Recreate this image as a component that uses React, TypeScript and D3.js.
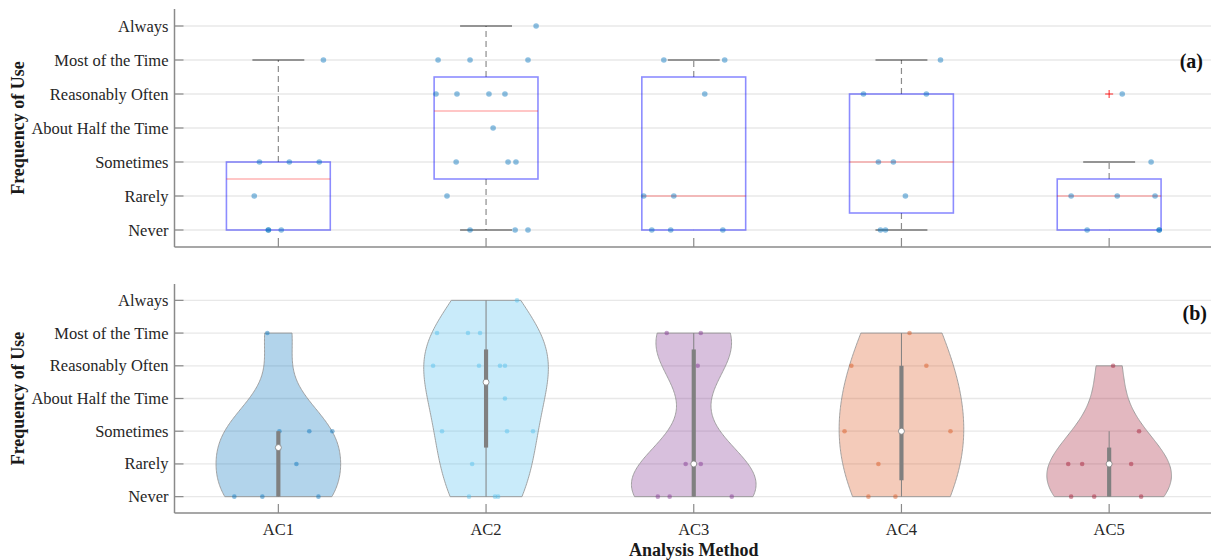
import React from "react";
import * as d3 from "d3";

// ---------- data ----------
const categories = ["AC1", "AC2", "AC3", "AC4", "AC5"];
const levelLabels = [
  "Never",
  "Rarely",
  "Sometimes",
  "About Half the Time",
  "Reasonably Often",
  "Most of the Time",
  "Always",
];

// responses (0 = Never ... 6 = Always)
const ac1Values = [0, 0, 0, 1, 2, 2, 2, 5];
const ac2Values = [0, 0, 0, 1, 2, 2, 2, 3, 4, 4, 4, 4, 5, 5, 5, 6];
const ac3Values = [0, 0, 0, 1, 1, 4, 5, 5];
const ac4Values = [0, 0, 1, 2, 2, 4, 4, 5];
const ac5Values = [0, 0, 0, 1, 1, 1, 2, 4];

// horizontal jitter (category units) of each response, panel (a)
const ac1BoxJitter = [-0.048, -0.048, 0.014, -0.116, -0.091, 0.053, 0.197, 0.217];
const ac2BoxJitter = [-0.077, 0.14, 0.202, -0.188, -0.144, 0.106, 0.144, 0.034, -0.241, -0.14, 0.014, 0.091, -0.231, -0.077, 0.202, 0.241];
const ac3BoxJitter = [-0.202, -0.111, 0.14, -0.241, -0.096, 0.053, -0.144, 0.149];
const ac4BoxJitter = [-0.101, -0.077, 0.019, -0.111, -0.039, -0.183, 0.12, 0.188];
const ac5BoxJitter = [-0.106, 0.241, 0.241, -0.183, 0.039, 0.221, 0.202, 0.063];

// horizontal jitter (category units) of each response, panel (b)
const ac1ViolinJitter = [-0.212, -0.077, 0.193, 0.087, 0.005, 0.149, 0.26, -0.053];
const ac2ViolinJitter = [-0.082, 0.043, 0.058, -0.067, -0.212, 0.101, 0.226, 0.091, -0.255, -0.034, 0.067, 0.091, -0.236, -0.087, -0.029, 0.149];
const ac3ViolinJitter = [-0.173, -0.116, 0.183, -0.039, 0.034, 0.019, -0.13, 0.034];
const ac4ViolinJitter = [-0.159, -0.029, -0.111, -0.274, 0.236, -0.241, 0.12, 0.039];
const ac5ViolinJitter = [-0.183, -0.072, 0.154, -0.197, -0.13, 0.106, 0.144, 0.019];

const violinColors = ["#0072BD", "#4DBEEE", "#7E2F8E", "#D95319", "#A2142F"];

const allValues = [ac1Values, ac2Values, ac3Values, ac4Values, ac5Values];
const allBoxJitter = [ac1BoxJitter, ac2BoxJitter, ac3BoxJitter, ac4BoxJitter, ac5BoxJitter];
const allViolinJitter = [ac1ViolinJitter, ac2ViolinJitter, ac3ViolinJitter, ac4ViolinJitter, ac5ViolinJitter];

// ---------- helpers ----------
const FONT = '"Liberation Serif", "Times New Roman", Times, serif';
const W = 1211;
const H = 560;

function mQuantile(sorted: number[], p: number) {
  const n = sorted.length;
  const pos = n * p + 0.5;
  if (pos <= 1) return sorted[0];
  if (pos >= n) return sorted[n - 1];
  const lo = Math.floor(pos);
  const f = pos - lo;
  return sorted[lo - 1] + f * (sorted[lo] - sorted[lo - 1]);
}

function boxStats(data: number[]) {
  const s = [...data].sort((a, b) => a - b);
  const q1 = mQuantile(s, 0.25);
  const med = mQuantile(s, 0.5);
  const q3 = mQuantile(s, 0.75);
  const iqr = q3 - q1;
  const hiFence = q3 + 1.5 * iqr;
  const loFence = q1 - 1.5 * iqr;
  const upper = d3.max(s.filter((d) => d <= hiFence)) as number;
  const lower = d3.min(s.filter((d) => d >= loFence)) as number;
  const outliers = s.filter((d) => d > hiFence || d < loFence);
  return { q1, med, q3, upper, lower, outliers };
}

function violinStats(data: number[]) {
  const s = [...data].sort((a, b) => a - b);
  const q1 = mQuantile(s, 0.25);
  const med = mQuantile(s, 0.5);
  const q3 = mQuantile(s, 0.75);
  const iqr = q3 - q1;
  let lo = q1 - 1.5 * iqr;
  lo = Math.max(lo, d3.min(s.filter((d) => d > lo)) as number);
  let hi = q3 + 1.5 * iqr;
  hi = Math.min(hi, d3.max(s.filter((d) => d < hi)) as number);
  return { q1, med, q3, lo, hi };
}

function bandwidth(data: number[]) {
  const med = d3.median(data) as number;
  const mad = d3.median(data.map((d) => Math.abs(d - med))) as number;
  let sig = mad / 0.6745;
  if (sig === 0) sig = (d3.deviation(data) as number) || 1;
  return sig * Math.pow(4 / (3 * data.length), 0.2);
}

function violinProfile(data: number[]) {
  const h = bandwidth(data);
  const lo = d3.min(data) as number;
  const hi = d3.max(data) as number;
  const N = 120;
  const pts = d3.range(N).map((i) => lo + ((hi - lo) * i) / (N - 1));
  const dens = pts.map((v) => d3.sum(data, (d) => Math.exp(-0.5 * ((v - d) / h) ** 2)));
  const mx = d3.max(dens) as number;
  return pts.map((v, i) => ({ v, w: (0.3 * dens[i]) / mx }));
}

// ---------- layout ----------
const x = d3.scaleLinear().domain([0.5, 5.5]).range([174.5, 1213]);
const yTop = d3.scaleLinear().domain([-0.5, 6.5]).range([247, 9]);
const yBot = d3.scaleLinear().domain([-0.5, 6.5]).range([513, 284]);
const AXIS_X = x(0.5);
const levels = d3.range(levelLabels.length);

function Axes({ y, titleY }: { y: d3.ScaleLinear<number, number>; titleY: number }) {
  const [y0, y1] = y.range();
  return (
    <g>
      {levels.map((l) => (
        <line key={"g" + l} x1={AXIS_X} x2={W} y1={y(l)} y2={y(l)} stroke="#e8e8e8" strokeWidth={1.3} />
      ))}
      <g>
        {levels.map((l) => (
          <g key={"t" + l}>
            <line x1={AXIS_X} x2={AXIS_X + 9} y1={y(l)} y2={y(l)} stroke="#8a8a8a" strokeWidth={1.2} />
            <text
              x={AXIS_X - 6}
              y={y(l)}
              textAnchor="end"
              dominantBaseline="central"
              fontFamily={FONT}
              fontSize={16.5}
              fill="#262626"
            >
              {levelLabels[l]}
            </text>
          </g>
        ))}
        {categories.map((c, i) => (
          <line key={"xt" + c} x1={x(i + 1)} x2={x(i + 1)} y1={y0} y2={y0 - 9} stroke="#8a8a8a" strokeWidth={1.2} />
        ))}
      </g>
      <line x1={AXIS_X} x2={AXIS_X} y1={y1} y2={y0} stroke="#8a8a8a" strokeWidth={1.5} />
      <line x1={AXIS_X} x2={W} y1={y0} y2={y0} stroke="#8a8a8a" strokeWidth={1.5} />
      <text
        transform={`translate(24,${titleY}) rotate(-90)`}
        textAnchor="middle"
        fontFamily={FONT}
        fontSize={18}
        fontWeight="bold"
        fill="#1a1a1a"
      >
        Frequency of Use
      </text>
    </g>
  );
}

function BoxPanel() {
  const y = yTop;
  const half = 0.25;
  const capHalf = 0.125;
  return (
    <g>
      <Axes y={y} titleY={(y.range()[0] + y.range()[1]) / 2} />
      {allValues.map((vals, i) => {
        const c = i + 1;
        const st = boxStats(vals);
        return (
          <g key={"box" + i}>
            <line x1={x(c)} x2={x(c)} y1={y(st.q3)} y2={y(st.upper)} stroke="#000" strokeOpacity={0.45} strokeWidth={1.2} strokeDasharray="6,4" />
            <line x1={x(c)} x2={x(c)} y1={y(st.q1)} y2={y(st.lower)} stroke="#000" strokeOpacity={0.45} strokeWidth={1.2} strokeDasharray="6,4" />
            {st.upper !== st.q3 && (
              <line x1={x(c - capHalf)} x2={x(c + capHalf)} y1={y(st.upper)} y2={y(st.upper)} stroke="#000" strokeOpacity={0.5} strokeWidth={1.3} />
            )}
            {st.lower !== st.q1 && (
              <line x1={x(c - capHalf)} x2={x(c + capHalf)} y1={y(st.lower)} y2={y(st.lower)} stroke="#000" strokeOpacity={0.5} strokeWidth={1.3} />
            )}
            <rect
              x={x(c - half)}
              y={y(st.q3)}
              width={x(c + half) - x(c - half)}
              height={y(st.q1) - y(st.q3)}
              fill="none"
              stroke="#0000ff"
              strokeOpacity={0.45}
              strokeWidth={1.6}
            />
            <line x1={x(c - half)} x2={x(c + half)} y1={y(st.med)} y2={y(st.med)} stroke="#ff0000" strokeOpacity={0.3} strokeWidth={1.6} />
            {st.outliers.map((o, k) => (
              <g key={"o" + k} stroke="#ff0000" strokeOpacity={0.7} strokeWidth={1.2}>
                <line x1={x(c) - 4} x2={x(c) + 4} y1={y(o)} y2={y(o)} />
                <line x1={x(c)} x2={x(c)} y1={y(o) - 4} y2={y(o) + 4} />
              </g>
            ))}
            {vals.map((v, k) => (
              <circle key={"p" + k} cx={x(c + allBoxJitter[i][k])} cy={y(v)} r={2.8} fill="#0072BD" fillOpacity={0.45} />
            ))}
          </g>
        );
      })}
      <text x={1203} y={68} textAnchor="end" fontFamily={FONT} fontSize={20} fontWeight="bold" fill="#111">
        (a)
      </text>
    </g>
  );
}

function ViolinPanel() {
  const y = yBot;
  return (
    <g>
      <Axes y={y} titleY={(y.range()[0] + y.range()[1]) / 2} />
      {allValues.map((vals, i) => {
        const c = i + 1;
        const prof = violinProfile(vals);
        const area = d3
          .area<{ v: number; w: number }>()
          .y((d) => y(d.v))
          .x0((d) => x(c - d.w))
          .x1((d) => x(c + d.w));
        const st = violinStats(vals);
        const color = violinColors[i];
        const barHalf = x(0.5 + 0.01) - x(0.5);
        return (
          <g key={"vio" + i}>
            <path d={area(prof) || ""} fill={color} fillOpacity={0.3} stroke="#999999" strokeWidth={0.9} />
            {vals.map((v, k) => (
              <circle key={"vp" + k} cx={x(c + allViolinJitter[i][k])} cy={y(v)} r={2.3} fill={color} fillOpacity={0.45} />
            ))}
            <line x1={x(c)} x2={x(c)} y1={y(st.hi)} y2={y(st.lo)} stroke="#808080" strokeWidth={1} />
            <rect
              x={x(c) - barHalf}
              y={y(st.q3)}
              width={barHalf * 2}
              height={y(st.q1) - y(st.q3)}
              fill="#808080"
            />
            <circle cx={x(c)} cy={y(st.med)} r={3} fill="#ffffff" stroke="#808080" strokeWidth={0.8} />
          </g>
        );
      })}
      {categories.map((c, i) => (
        <text
          key={"xl" + c}
          x={x(i + 1)}
          y={535}
          textAnchor="middle"
          fontFamily={FONT}
          fontSize={16.5}
          fill="#262626"
        >
          {c}
        </text>
      ))}
      <text x={x(3)} y={556} textAnchor="middle" fontFamily={FONT} fontSize={18} fontWeight="bold" fill="#1a1a1a">
        Analysis Method
      </text>
      <text x={1207} y={320} textAnchor="end" fontFamily={FONT} fontSize={20} fontWeight="bold" fill="#111">
        (b)
      </text>
    </g>
  );
}

export default function App() {
  return (
    <svg
      width={W}
      height={H}
      viewBox={`0 0 ${W} ${H}`}
      style={{ position: "absolute", left: 0, top: 0, background: "#fff" }}
    >
      <rect x={0} y={0} width={W} height={H} fill="#fff" />
      <BoxPanel />
      <ViolinPanel />
    </svg>
  );
}
